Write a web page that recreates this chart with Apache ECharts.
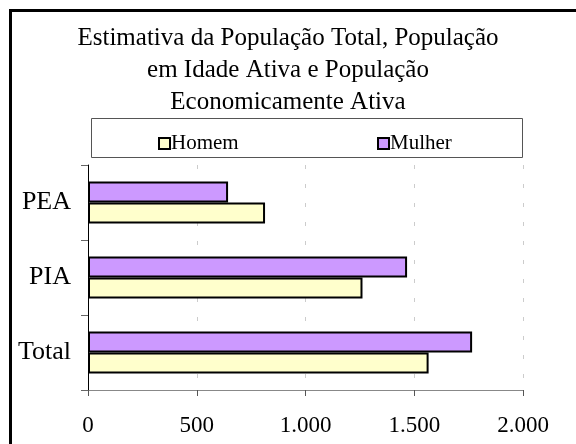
<!DOCTYPE html>
<html>
<head>
<meta charset="utf-8">
<script src="https://cdn.jsdelivr.net/npm/echarts@6/dist/echarts.min.js"></script>
<style>
html,body{margin:0;padding:0;background:#fff;}
#chart{width:576px;height:444px;}
</style>
</head>
<body>
<div id="chart"></div>
<script>
var categories = ['Total', 'PIA', 'PEA'];
var homem = [1566, 1262, 814];
var mulher = [1766, 1467, 644];
var xTicks = [0, 500, 1000, 1500, 2000];
var titleLines = ['Estimativa da População Total, População', 'em Idade Ativa e População', 'Economicamente Ativa'];

var serif = '"Liberation Serif", "DejaVu Serif", serif';
var chart = echarts.init(document.getElementById('chart'));
function fmt(v){ return v >= 1000 ? (Math.floor(v/1000) + '.' + String(v % 1000).padStart(3,'0')) : String(v); }

chart.setOption({
  backgroundColor: '#fff',
  animation: false,
  title: {
    text: titleLines.join('\n'),
    left: 'center',
    top: 17,
    textStyle: { fontFamily: serif, fontSize: 25, fontWeight: 'normal', color: '#000', lineHeight: 32 }
  },
  legend: [
    { data: ['Homem'], icon: 'rect', left: 153, top: 128, itemWidth: 11, itemHeight: 11,
      textStyle: { fontFamily: serif, fontSize: 21, color: '#000', padding: [0,0,0,-4] } },
    { data: ['Mulher'], icon: 'rect', left: 372, top: 128, itemWidth: 11, itemHeight: 11,
      textStyle: { fontFamily: serif, fontSize: 21, color: '#000', padding: [0,0,0,-4] } }
  ],
  graphic: [
    { type: 'rect', shape: { x: 10.5, y: 10.5, width: 700, height: 600 },
      style: { fill: null, stroke: '#000', lineWidth: 3 }, silent: true },
    { type: 'rect', shape: { x: 91.5, y: 118.5, width: 431, height: 39 },
      style: { fill: null, stroke: '#555', lineWidth: 1 }, silent: true }
  ],
  grid: { left: 88, right: 53, top: 165, bottom: 54, containLabel: false },
  xAxis: {
    type: 'value', min: 0, max: 2000, interval: 500,
    axisLine: { show: true, lineStyle: { color: '#888', width: 1 } },
    axisTick: { show: true, length: 6, lineStyle: { color: '#555' } },
    axisLabel: { fontFamily: serif, fontSize: 23, color: '#000', margin: 24,
      formatter: function(v){ return fmt(v); } },
    splitLine: { show: true, lineStyle: { color: '#ccc', type: [4, 15], width: 1 } }
  },
  yAxis: {
    type: 'category', data: categories,
    axisLine: { show: true, lineStyle: { color: '#000', width: 1 } },
    axisTick: { show: true, length: 7, lineStyle: { color: '#666' } },
    axisLabel: { fontFamily: serif, fontSize: 26, color: '#000', margin: 17 },
    splitLine: { show: false }
  },
  series: [
    { name: 'Mulher', type: 'bar', data: mulher, barGap: '0%', barCategoryGap: '44%',
      itemStyle: { color: '#CC99FF', borderColor: '#000', borderWidth: 2 } },
    { name: 'Homem', type: 'bar', data: homem, barGap: '0%', barCategoryGap: '44%',
      itemStyle: { color: '#FFFFCC', borderColor: '#000', borderWidth: 2 } }
  ]
});
</script>
</body>
</html>
